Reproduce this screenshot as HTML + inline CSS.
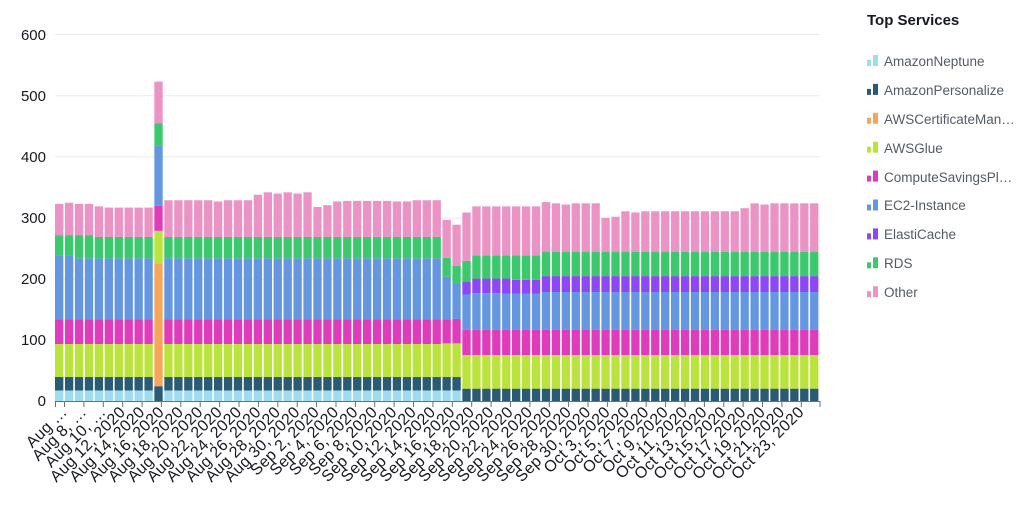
<!DOCTYPE html>
<html><head><meta charset="utf-8"><style>
html,body{margin:0;padding:0;background:#fff;width:1024px;height:511px;overflow:hidden}
svg{display:block}
text{font-family:"Liberation Sans",sans-serif}
.y{font-size:15px;fill:#16191f;text-anchor:end}
.x{font-size:16px;letter-spacing:0.3px;fill:#16191f;text-anchor:end}
.lg{font-size:13.5px;fill:#545b64}
</style></head><body>
<svg id="s" width="1024" height="511" xmlns="http://www.w3.org/2000/svg">
<g stroke="#e9ebed" stroke-width="1">
<line x1="55" x2="820" y1="340.3" y2="340.3"/><line x1="55" x2="820" y1="279.2" y2="279.2"/>
<line x1="55" x2="820" y1="218" y2="218"/><line x1="55" x2="820" y1="156.8" y2="156.8"/>
<line x1="55" x2="820" y1="95.7" y2="95.7"/><line x1="55" x2="820" y1="34.5" y2="34.5"/>
</g>
<text class="y" x="46" y="406">0</text><text class="y" x="46" y="345">100</text>
<text class="y" x="46" y="284">200</text><text class="y" x="46" y="223">300</text>
<text class="y" x="46" y="162">400</text><text class="y" x="46" y="101">500</text>
<text class="y" x="46" y="40">600</text>
<g id="bars"></g>
<line x1="55" x2="820" y1="401.5" y2="401.5" stroke="#687078" stroke-width="1"/>
<g id="ticks" stroke="#687078"></g>
<g id="xl">
<text class="x" transform="translate(68,413) rotate(-45)">Aug …</text>
<text class="x" transform="translate(87.4,413) rotate(-45)">Aug 8, …</text>
<text class="x" transform="translate(106.8,413) rotate(-45)">Aug 10, …</text>
<text class="x" transform="translate(126.2,413) rotate(-45)">Aug 12, 2020</text>
<text class="x" transform="translate(145.6,413) rotate(-45)">Aug 14, 2020</text>
<text class="x" transform="translate(165,413) rotate(-45)">Aug 16, 2020</text>
<text class="x" transform="translate(184.3,413) rotate(-45)">Aug 18, 2020</text>
<text class="x" transform="translate(203.7,413) rotate(-45)">Aug 20, 2020</text>
<text class="x" transform="translate(223.1,413) rotate(-45)">Aug 22, 2020</text>
<text class="x" transform="translate(242.5,413) rotate(-45)">Aug 24, 2020</text>
<text class="x" transform="translate(261.9,413) rotate(-45)">Aug 26, 2020</text>
<text class="x" transform="translate(281.3,413) rotate(-45)">Aug 28, 2020</text>
<text class="x" transform="translate(300.7,413) rotate(-45)">Aug 30, 2020</text>
<text class="x" transform="translate(320.1,413) rotate(-45)">Sep 2, 2020</text>
<text class="x" transform="translate(339.5,413) rotate(-45)">Sep 4, 2020</text>
<text class="x" transform="translate(358.9,413) rotate(-45)">Sep 6, 2020</text>
<text class="x" transform="translate(378.3,413) rotate(-45)">Sep 8, 2020</text>
<text class="x" transform="translate(397.7,413) rotate(-45)">Sep 10, 2020</text>
<text class="x" transform="translate(417.1,413) rotate(-45)">Sep 12, 2020</text>
<text class="x" transform="translate(436.4,413) rotate(-45)">Sep 14, 2020</text>
<text class="x" transform="translate(455.8,413) rotate(-45)">Sep 16, 2020</text>
<text class="x" transform="translate(475.2,413) rotate(-45)">Sep 18, 2020</text>
<text class="x" transform="translate(494.6,413) rotate(-45)">Sep 20, 2020</text>
<text class="x" transform="translate(514,413) rotate(-45)">Sep 22, 2020</text>
<text class="x" transform="translate(533.4,413) rotate(-45)">Sep 24, 2020</text>
<text class="x" transform="translate(552.8,413) rotate(-45)">Sep 26, 2020</text>
<text class="x" transform="translate(572.2,413) rotate(-45)">Sep 28, 2020</text>
<text class="x" transform="translate(591.6,413) rotate(-45)">Sep 30, 2020</text>
<text class="x" transform="translate(611,413) rotate(-45)">Oct 3, 2020</text>
<text class="x" transform="translate(630.4,413) rotate(-45)">Oct 5, 2020</text>
<text class="x" transform="translate(649.8,413) rotate(-45)">Oct 7, 2020</text>
<text class="x" transform="translate(669.2,413) rotate(-45)">Oct 9, 2020</text>
<text class="x" transform="translate(688.5,413) rotate(-45)">Oct 11, 2020</text>
<text class="x" transform="translate(707.9,413) rotate(-45)">Oct 13, 2020</text>
<text class="x" transform="translate(727.3,413) rotate(-45)">Oct 15, 2020</text>
<text class="x" transform="translate(746.7,413) rotate(-45)">Oct 17, 2020</text>
<text class="x" transform="translate(766.1,413) rotate(-45)">Oct 19, 2020</text>
<text class="x" transform="translate(785.5,413) rotate(-45)">Oct 21, 2020</text>
<text class="x" transform="translate(804.9,413) rotate(-45)">Oct 23, 2020</text>
</g>
<text x="867" y="25" style="font-size:15px;fill:#16191f;font-weight:bold">Top Services</text>
<g id="leg">
<text class="lg" x="884" y="66">AmazonNeptune</text>
<text class="lg" x="884" y="95">AmazonPersonalize</text>
<text class="lg" x="884" y="124">AWSCertificateMan…</text>
<text class="lg" x="884" y="153">AWSGlue</text>
<text class="lg" x="884" y="182">ComputeSavingsPl…</text>
<text class="lg" x="884" y="210">EC2-Instance</text>
<text class="lg" x="884" y="239">ElastiCache</text>
<text class="lg" x="884" y="268">RDS</text>
<text class="lg" x="884" y="297">Other</text>
</g>
</svg>
<script>
var C=["#a0dcf0","#2b5a75","#f5a65b","#bbe33d","#e03bbb","#6497e0","#8c48f5","#3cc96d","#ec93c6"];
var NS="http://www.w3.org/2000/svg";
function R(p,x,y,w,h,f){var r=document.createElementNS(NS,"rect");r.setAttribute("x",x);r.setAttribute("y",y);r.setAttribute("width",w);r.setAttribute("height",h);r.setAttribute("fill",f);p.appendChild(r);}
var lg=document.getElementById("leg");
for(var i=0;i<9;i++){var cy=61+i*28.9;R(lg,867,cy-1,4,6,C[i]);R(lg,873,cy-6,5,11,C[i]);}
var T=[323,325,323,323,319,317,317,317,317,317,523,
329,329,329,329,329,327,329,329,329,338,342,340,342,340,342,318,321,327,
328,328,328,328,328,327,327,329,329,329,297,289,
309,319,319,319,319,319,319,319,326,324,322,324,324,324,300,302,311,309,
311,311,311,311,311,311,311,311,311,311,316,324,322,324,324,324,324,324];
var bars=[];
for(var i=0;i<77;i++){
 var c;
 if(i==10) c=[0,25,226,279,320,419,419,455,523];
 else if(i<41){
  var ec=i<2?238:234, rd=i<4?272:269, cp=134, gl=94;
  if(i==39){gl=95;cp=134;ec=204;rd=235;}
  if(i==40){gl=95;cp=135;ec=193;rd=222;}
  c=[18,40,40,gl,cp,ec,ec,rd,T[i]];
 } else {
  var ec=179,el=205,rd=245;
  if(i==41){ec=175;el=196;rd=230;}
  else if(i>=42&&i<=44){ec=177;el=201;rd=239;}
  else if(i==45){ec=176;el=201;rd=239;}
  else if(i>=46&&i<=48){ec=176;el=199;rd=239;}
  c=[0,21,21,76,117,ec,el,rd,T[i]];
 }
 bars.push(c);
}
var g=document.getElementById("bars");
var k=0.6117, y0=401.5, pitch=765/77;
for(var i=0;i<77;i++){
 var x=55+i*pitch, prev=0;
 for(var s=0;s<9;s++){
  var v=bars[i][s]; if(v>prev){R(g,x.toFixed(2),(y0-v*k).toFixed(2),(pitch-1.6).toFixed(2),((v-prev)*k).toFixed(2),C[s]);prev=v;}
 }
}
var t=document.getElementById("ticks");
function L(x){var l=document.createElementNS(NS,"line");l.setAttribute("x1",x);l.setAttribute("x2",x);l.setAttribute("y1",401);l.setAttribute("y2",407);t.appendChild(l);}
L(55.5);L(820);
for(var j=0;j<39;j++)L((64.5+j*19.39).toFixed(1));
</script>
</body></html>
